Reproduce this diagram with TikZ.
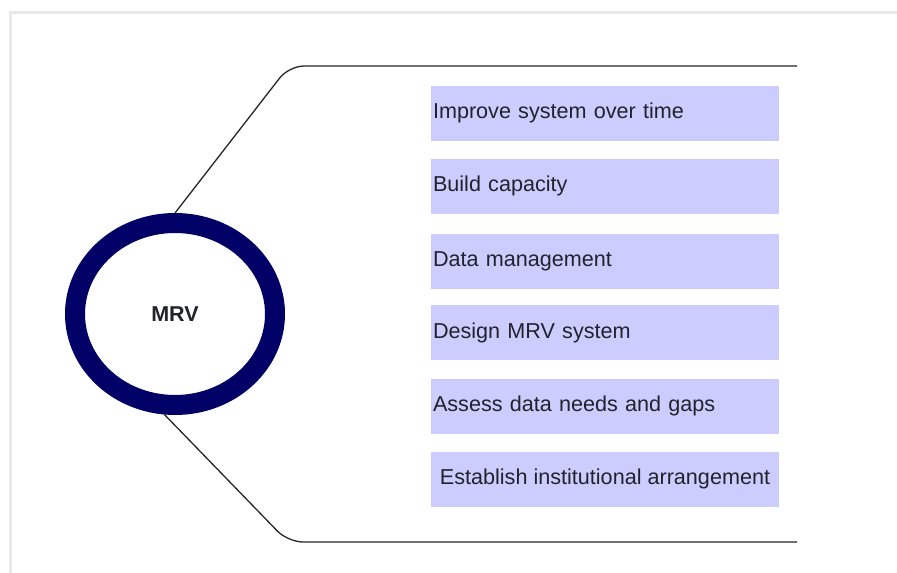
\documentclass[tikz,border=0pt]{standalone}
\usepackage{fontspec}
\setmainfont{Liberation Sans}
\usetikzlibrary{shapes.geometric}
\definecolor{ringblue}{RGB}{0,0,102}
\definecolor{boxfill}{RGB}{204,204,255}
\definecolor{txt}{RGB}{34,34,44}
\definecolor{framegray}{RGB}{232,232,232}
\tikzset{
  stepbox/.style={fill=boxfill, draw=none, minimum width=348pt, minimum height=55pt,
    inner sep=0pt, text=txt, font=\fontsize{21.6}{24}\selectfont},
  leftlabel/.style={text width=344pt, align=left},
  connector/.style={draw=black!85, line width=1.3pt, rounded corners=15pt},
}
\begin{document}
\begin{tikzpicture}[x=1pt,y=-1pt]
\useasboundingbox (0,0) rectangle (897,573);
\draw[framegray, line width=3pt] (10,573) -- (10,12) -- (897,12);
\node[ellipse, draw=ringblue, line width=20pt, fill=white, minimum width=200pt, minimum height=182pt,
  font=\bfseries\fontsize{21.5}{24}\selectfont, text=txt] (mrv) at (175,314) {MRV};
\coordinate (tc) at (289,66);
\coordinate (te) at (797,66);
\coordinate (bc) at (288,542);
\coordinate (be) at (797,542);
\draw[connector] (mrv.north) -- (tc) -- (te);
\draw[connector] (mrv.264) -- (bc) -- (be);
\node[stepbox, leftlabel] (s1) at (605,113) {Improve system over time};
\node[stepbox, leftlabel] (s2) at (605,186) {Build capacity};
\node[stepbox, leftlabel] (s3) at (605,261) {Data management};
\node[stepbox, leftlabel] (s4) at (605,332.5) {Design MRV system};
\node[stepbox, leftlabel] (s5) at (605,406) {Assess data needs and gaps};
\node[stepbox] (s6) at (605,479) {Establish institutional arrangement};
\end{tikzpicture}
\end{document}
